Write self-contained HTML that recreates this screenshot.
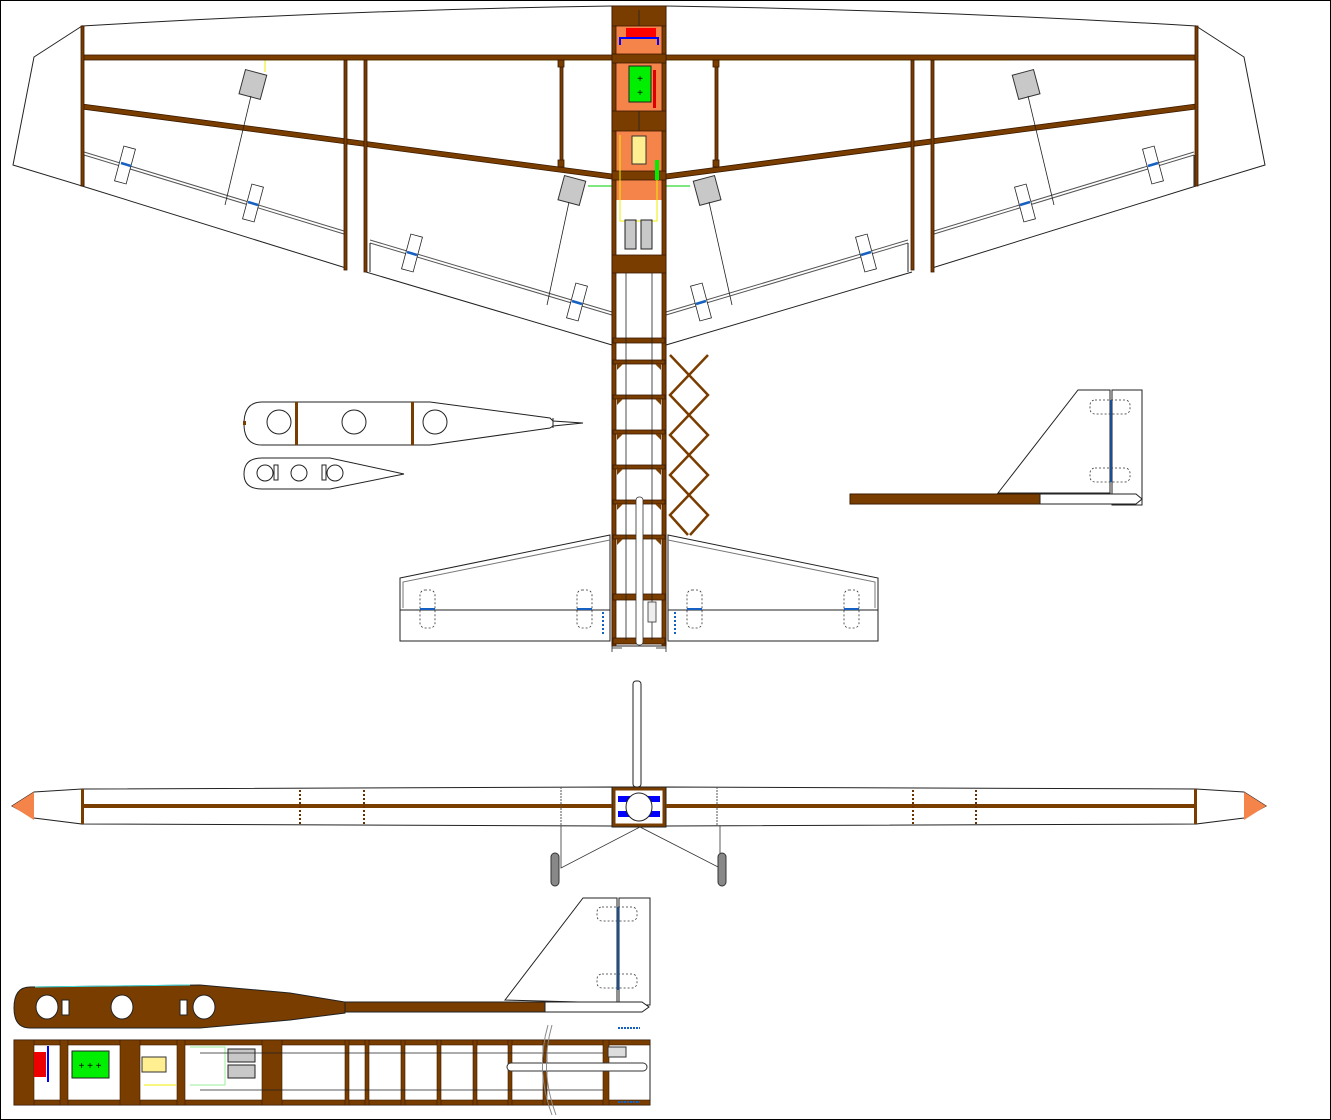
<!DOCTYPE html>
<html><head><meta charset="utf-8"><style>html,body{margin:0;padding:0;background:#fff}svg{display:block}</style></head>
<body>
<svg width="1331" height="1120" viewBox="0 0 1331 1120" xmlns="http://www.w3.org/2000/svg" font-family="Liberation Sans, sans-serif">
<rect x="0.5" y="0.5" width="1330" height="1119" fill="#fff" stroke="#000" stroke-width="1"/>
<g fill="none" stroke="#222" stroke-width="1">
<polygon points="82,26 34,57 13,165 82,186" fill="#fff"/>
<polygon points="1196,26 1244,57 1265,165 1196,186" fill="#fff"/>
<path d="M82,26 Q350,10 612,6 L666,6 Q930,10 1196,26"/>
<polyline points="82,186 346,268"/>
<polyline points="366,272 612,345"/>
<polyline points="1196,186 932,268"/>
<polyline points="912,272 666,345"/>
<polyline points="84,152 344,231" stroke="#555"/><polyline points="84,155 344,234" stroke="#555"/>
<polyline points="84,155 84,186"/>
<polyline points="370,240 612,312" stroke="#555"/><polyline points="370,243 612,315" stroke="#555"/>
<polyline points="370,243 370,272"/>
<polyline points="1194,152 934,231" stroke="#555"/><polyline points="1194,155 934,234" stroke="#555"/>
<polyline points="908,240 666,312" stroke="#555"/><polyline points="908,243 666,315" stroke="#555"/>
<polyline points="1194,155 1194,186"/><polyline points="908,243 908,272"/>
<polyline points="265,60 265,72" stroke="#ee0"/><polyline points="265,60 612,60" stroke="#ee0"/>
<polyline points="1012,60 666,60" stroke="#ee0"/>
<polyline points="588,186 612,186" stroke="#0c0"/><polyline points="690,186 666,186" stroke="#0c0"/>
</g>
<g stroke="#3a1a00" fill="#7a3d00" stroke-width="0.8">
<rect x="82" y="55" width="530" height="5"/>
<rect x="666" y="55" width="530" height="5"/>
<polygon points="82,104 612,174 612,179 82,109"/>
<polygon points="1196,104 666,174 666,179 1196,109"/>
<rect x="81" y="26" width="3" height="160"/>
<rect x="1195" y="26" width="3" height="160"/>
<rect x="344" y="60" width="3" height="210"/>
<rect x="364" y="60" width="3" height="212"/>
<rect x="911" y="60" width="3" height="210"/>
<rect x="931" y="60" width="3" height="212"/>
<rect x="560" y="62" width="3" height="104"/>
<rect x="715" y="62" width="3" height="104"/>
<rect x="558" y="60" width="6" height="7"/><rect x="558" y="160" width="6" height="7"/>
<rect x="713" y="60" width="6" height="7"/><rect x="713" y="160" width="6" height="7"/>
</g>
<g fill="#c8c8c8" stroke="#333" stroke-width="1">
<rect x="242" y="72" width="22" height="25" transform="rotate(15 253 84)"/>
<rect x="561" y="178" width="22" height="25" transform="rotate(15 572 190)"/>
<rect x="1015" y="72" width="22" height="25" transform="rotate(-15 1026 84)"/>
<rect x="696" y="178" width="22" height="25" transform="rotate(-15 707 190)"/>
</g>
<g stroke="#222" stroke-width="0.8">
<line x1="251" y1="96" x2="225" y2="205"/><line x1="569" y1="202" x2="547" y2="305"/>
<line x1="1028" y1="96" x2="1054" y2="205"/><line x1="709" y1="202" x2="732" y2="305"/>
</g>
<g fill="#fff" stroke="#222" stroke-width="0.8">
<rect x="119" y="147" width="12" height="36" transform="rotate(15 125 165)"/>
<rect x="247" y="185" width="12" height="36" transform="rotate(15 253 203)"/>
<rect x="406" y="235" width="12" height="36" transform="rotate(15 412 253)"/>
<rect x="571" y="284" width="12" height="36" transform="rotate(15 577 302)"/>
<rect x="1147" y="147" width="12" height="36" transform="rotate(-15 1153 165)"/>
<rect x="1019" y="185" width="12" height="36" transform="rotate(-15 1025 203)"/>
<rect x="860" y="235" width="12" height="36" transform="rotate(-15 866 253)"/>
<rect x="695" y="284" width="12" height="36" transform="rotate(-15 701 302)"/>
</g>
<g stroke="#1560c0" stroke-width="2.5">
<line x1="121" y1="163" x2="131" y2="166"/><line x1="248" y1="202" x2="258" y2="205"/>
<line x1="407" y1="252" x2="417" y2="255"/><line x1="572" y1="301" x2="582" y2="304"/>
<line x1="1148" y1="166" x2="1158" y2="163"/><line x1="1020" y1="205" x2="1030" y2="202"/>
<line x1="861" y1="255" x2="871" y2="252"/><line x1="696" y1="304" x2="706" y2="301"/>
</g>

<rect x="612" y="6" width="54" height="640" fill="#fff" stroke="#222"/>
<rect x="616" y="10" width="46" height="245" fill="#f4844a"/>
<rect x="616" y="200" width="46" height="55" fill="#fff"/>
<g fill="#7a3d00" stroke="#3a1a00" stroke-width="0.8">
<rect x="612" y="6" width="4" height="640"/><rect x="662" y="6" width="4" height="640"/>
<rect x="612" y="6" width="54" height="20"/>
<rect x="612" y="54" width="54" height="9"/>
<rect x="612" y="111" width="54" height="20"/>
<rect x="612" y="171" width="54" height="9"/>
<rect x="612" y="255" width="54" height="18"/>
<rect x="613" y="338" width="52" height="5"/>
<rect x="613" y="360" width="52" height="4"/><rect x="613" y="395" width="52" height="4"/>
<rect x="613" y="430" width="52" height="4"/><rect x="613" y="465" width="52" height="4"/>
<rect x="613" y="500" width="52" height="4"/><rect x="613" y="535" width="52" height="4"/>
<rect x="613" y="594" width="52" height="6"/>
<rect x="613" y="638" width="52" height="6"/>
</g>
<rect x="626" y="28" width="30" height="10" fill="#f00"/>
<polyline points="620,45 620,38 658,38 658,45" fill="none" stroke="#00f" stroke-width="2"/>
<rect x="629" y="66" width="22" height="36" fill="#0e0" stroke="#222"/>
<text x="640" y="82" font-size="10" text-anchor="middle">+</text><text x="640" y="96" font-size="10" text-anchor="middle">+</text>
<rect x="653" y="70" width="3" height="38" fill="#d00"/>
<rect x="632" y="136" width="14" height="28" fill="#ffef90" stroke="#333"/>
<polyline points="620,135 620,221 657,221 657,160" fill="none" stroke="#ee0" stroke-width="1"/>
<rect x="655" y="160" width="4" height="20" fill="#0e0"/>
<rect x="625" y="220" width="11" height="29" fill="#c8c8c8" stroke="#222"/>
<rect x="641" y="220" width="11" height="29" fill="#c8c8c8" stroke="#222"/>
<g stroke="#222" stroke-width="0.8">
<line x1="626" y1="273" x2="626" y2="640"/><line x1="652" y1="273" x2="652" y2="640"/>
<line x1="639" y1="10" x2="639" y2="26"/><line x1="639" y1="111" x2="639" y2="131"/>
</g>
<g fill="#7a3d00">
<polygon points="617,364 623,364 617,370"/><polygon points="661,364 655,364 661,370"/>
<polygon points="617,399 623,399 617,405"/><polygon points="661,399 655,399 661,405"/>
<polygon points="617,434 623,434 617,440"/><polygon points="661,434 655,434 661,440"/>
<polygon points="617,469 623,469 617,475"/><polygon points="661,469 655,469 661,475"/>
<polygon points="617,504 623,504 617,510"/><polygon points="661,504 655,504 661,510"/>
<polygon points="617,539 623,539 617,545"/><polygon points="661,539 655,539 661,545"/>
</g>
<rect x="636" y="497" width="7" height="148" rx="3" fill="#fff" stroke="#333" stroke-width="0.8"/>
<rect x="648" y="602" width="8" height="20" fill="#eee" stroke="#333" stroke-width="0.8"/>
<g stroke="#7a3d00" stroke-width="2.5" fill="none">
<polyline points="670,355 708,395 670,435 708,475 670,515 688,535"/>
<polyline points="708,355 670,395 708,435 670,475 708,515 690,535"/>
</g>
<g fill="#fff" stroke="#222" stroke-width="1">
<polygon points="400,578 610,535 610,610 400,610"/>
<polygon points="668,535 878,578 878,610 668,610"/>
<rect x="400" y="610" width="210" height="31"/>
<rect x="668" y="610" width="210" height="31"/>
</g>
<g stroke="#777" fill="none"><polyline points="403,608 403,582 610,540"/><polyline points="875,608 875,582 668,540"/></g>
<g fill="none" stroke="#333" stroke-dasharray="2,2" stroke-width="0.8">
<rect x="420" y="590" width="15" height="38" rx="5"/><rect x="577" y="590" width="15" height="38" rx="5"/>
<rect x="687" y="590" width="15" height="38" rx="5"/><rect x="844" y="590" width="15" height="38" rx="5"/>
</g>
<g stroke="#1560c0" stroke-width="2"><line x1="420" y1="609" x2="435" y2="609"/><line x1="577" y1="609" x2="592" y2="609"/><line x1="687" y1="609" x2="702" y2="609"/><line x1="844" y1="609" x2="859" y2="609"/>
<line x1="603" y1="612" x2="603" y2="635" stroke-dasharray="2,2"/><line x1="675" y1="612" x2="675" y2="635" stroke-dasharray="2,2"/></g>
<g stroke="#222" stroke-width="0.8"><line x1="612" y1="644" x2="612" y2="652"/><line x1="666" y1="644" x2="666" y2="652"/>
<line x1="612" y1="648" x2="622" y2="648"/><line x1="656" y1="648" x2="666" y2="648"/></g>

<g fill="#fff" stroke="#222" stroke-width="1">
<path d="M262,402 L430,402 L550,418 L553,421 L583,423 L553,426 L550,428 L430,445 L262,445 Q244,445 244,424 Q244,402 262,402 Z"/>
<line x1="553" y1="418" x2="553" y2="428"/>
<circle cx="279" cy="422" r="12"/><circle cx="354" cy="422" r="12"/><circle cx="435" cy="422" r="12"/>
<path d="M262,458 L330,458 L404,474 L330,489 L262,489 Q244,489 244,474 Q244,458 262,458 Z"/>
<circle cx="265" cy="473" r="8"/><circle cx="299" cy="473" r="8"/><circle cx="335" cy="473" r="8"/>
<rect x="274" y="465" width="4" height="15"/><rect x="322" y="465" width="4" height="15"/>
</g>
<rect x="295" y="402" width="3" height="43" fill="#7a3d00"/><rect x="411" y="402" width="3" height="43" fill="#7a3d00"/>
<rect x="243" y="421" width="3" height="4" fill="#7a3d00"/>

<g fill="#fff" stroke="#222" stroke-width="1">
<polygon points="998,493 1078,390 1110,390 1110,493"/>
<rect x="1112" y="390" width="30" height="115"/>
</g>
<rect x="850" y="494" width="196" height="10" fill="#7a3d00" stroke="#3a1a00"/>
<path d="M1040,494 L1136,494 L1142,499 L1136,504 L1040,504 Z" fill="#fff" stroke="#222"/>
<g fill="none" stroke="#333" stroke-dasharray="2,2" stroke-width="0.8">
<rect x="1090" y="400" width="40" height="14" rx="5"/><rect x="1090" y="468" width="40" height="14" rx="5"/>
</g>
<line x1="1111" y1="400" x2="1111" y2="482" stroke="#1560c0" stroke-width="1.5"/>

<g fill="#fff" stroke="#222" stroke-width="1">
<rect x="633" y="681" width="8" height="106" rx="3"/>
<path d="M82,789 L612,787 L612,826 L82,824 Z"/>
<path d="M666,787 L1196,789 L1196,824 L666,826 Z"/>
<path d="M82,789 L34,792 L12,806 L34,818 L82,824 Z"/>
<path d="M1196,789 L1244,792 L1266,806 L1244,818 L1196,824 Z"/>
<rect x="612" y="787" width="54" height="40"/>
</g>
<polygon points="12,806 34,792 34,820" fill="#f4844a"/><polygon points="1266,806 1244,792 1244,820" fill="#f4844a"/>
<rect x="82" y="804" width="530" height="4" fill="#7a3d00"/><rect x="666" y="804" width="530" height="4" fill="#7a3d00"/>
<rect x="81" y="789" width="3" height="35" fill="#7a3d00"/><rect x="1194" y="789" width="3" height="35" fill="#7a3d00"/>
<rect x="614" y="789" width="50" height="36" fill="none" stroke="#7a3d00" stroke-width="3"/>
<rect x="618" y="796" width="42" height="6" fill="#00f"/><rect x="618" y="811" width="42" height="6" fill="#00f"/>
<ellipse cx="639" cy="807" rx="13" ry="14" fill="#fff" stroke="#222"/>
<g stroke="#6a3000" stroke-width="2" stroke-dasharray="2,2">
<line x1="300" y1="790" x2="300" y2="824"/><line x1="364" y1="790" x2="364" y2="824"/>
<line x1="913" y1="790" x2="913" y2="824"/><line x1="976" y1="790" x2="976" y2="824"/>
</g>
<g stroke="#555" stroke-width="1" stroke-dasharray="2,1"><line x1="561" y1="787" x2="561" y2="826"/><line x1="717" y1="787" x2="717" y2="826"/></g>
<g stroke="#333" stroke-width="0.8" fill="none"><polyline points="561,826 561,868 640,827 720,868 720,826"/></g>
<rect x="551" y="853" width="8" height="33" rx="4" fill="#888" stroke="#333"/>
<rect x="718" y="853" width="8" height="33" rx="4" fill="#888" stroke="#333"/>

<g fill="#fff" stroke="#222" stroke-width="1">
<polygon points="505,1000 583,898 617,898 617,1003"/>
<rect x="619" y="898" width="31" height="107"/>
</g>
<path d="M30,987 L200,985 L290,993 L345,1002 L345,1013 L290,1020 L200,1028 L30,1028 Q14,1028 14,1008 Q14,987 30,987 Z" fill="#7a3d00" stroke="#222"/>
<rect x="345" y="1002" width="200" height="10" fill="#7a3d00" stroke="#222"/>
<path d="M545,1002 L642,1002 L649,1007 L642,1012 L545,1012 Z" fill="#fff" stroke="#222"/>
<g fill="#fff" stroke="#222"><ellipse cx="47" cy="1007" rx="11" ry="12"/><ellipse cx="122" cy="1007" rx="11" ry="12"/><ellipse cx="204" cy="1007" rx="11" ry="12"/>
<rect x="62" y="1000" width="7" height="15"/><rect x="180" y="1000" width="7" height="15"/></g>
<line x1="35" y1="987" x2="190" y2="985" stroke="#4dd" stroke-width="1"/>
<g fill="none" stroke="#333" stroke-dasharray="2,2" stroke-width="0.8">
<rect x="597" y="907" width="40" height="14" rx="5"/><rect x="597" y="974" width="40" height="14" rx="5"/>
</g>
<line x1="618" y1="907" x2="618" y2="990" stroke="#1560c0" stroke-width="1.5"/>
<rect x="14" y="1040" width="636" height="65" fill="#fff" stroke="#222"/>
<g fill="#7a3d00" stroke="#3a1a00" stroke-width="0.6">
<rect x="14" y="1040" width="636" height="5"/><rect x="14" y="1100" width="636" height="5"/>
<rect x="14" y="1040" width="20" height="65"/><rect x="60" y="1040" width="8" height="65"/>
<rect x="120" y="1040" width="20" height="65"/><rect x="177" y="1040" width="8" height="65"/>
<rect x="262" y="1040" width="20" height="65"/>
<rect x="345" y="1040" width="4" height="65"/><rect x="365" y="1040" width="4" height="65"/>
<rect x="401" y="1040" width="4" height="65"/><rect x="437" y="1040" width="4" height="65"/>
<rect x="473" y="1040" width="4" height="65"/><rect x="508" y="1040" width="4" height="65"/>
<rect x="543" y="1040" width="4" height="65"/><rect x="603" y="1040" width="6" height="65"/>
</g>
<rect x="34" y="1052" width="12" height="25" fill="#e00"/>
<rect x="72" y="1051" width="37" height="27" fill="#0e0" stroke="#222"/>
<text x="90" y="1069" font-size="10" text-anchor="middle">+ + +</text>
<polyline points="48,1046 48,1082" stroke="#00f" stroke-width="2" fill="none"/>
<rect x="142" y="1057" width="24" height="15" fill="#ffef90" stroke="#333"/>
<polyline points="190,1047 225,1047 225,1085 190,1085" stroke="#9e9" fill="none"/>
<polyline points="144,1085 176,1085" stroke="#ee0" fill="none"/>
<rect x="228" y="1049" width="27" height="13" fill="#c8c8c8" stroke="#222"/>
<rect x="228" y="1065" width="27" height="13" fill="#c8c8c8" stroke="#222"/>
<g stroke="#222" stroke-width="0.8"><line x1="200" y1="1053" x2="603" y2="1053"/><line x1="200" y1="1090" x2="603" y2="1090"/></g>
<rect x="507" y="1063" width="140" height="8" rx="4" fill="#fff" stroke="#333"/>
<rect x="608" y="1047" width="18" height="10" fill="#ddd" stroke="#333"/>
<g stroke="#1560c0" stroke-width="2" stroke-dasharray="2,1"><line x1="618" y1="1028" x2="640" y2="1028"/><line x1="618" y1="1102" x2="640" y2="1102"/></g>
<g stroke="#888" fill="none"><path d="M548,1025 Q535,1070 552,1115"/><path d="M552,1025 Q539,1070 556,1115"/></g>
</svg>
</body></html>
